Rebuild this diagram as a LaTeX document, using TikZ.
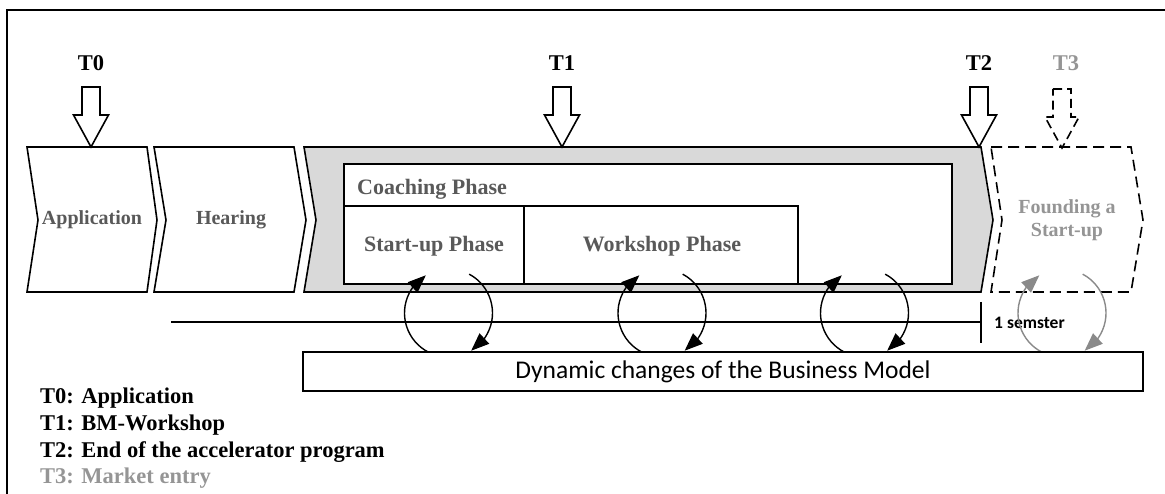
\documentclass[tikz,border=0pt]{standalone}
\usepackage{fontspec}
\setmainfont{Liberation Serif}
\newfontfamily\bmfont{Carlito}
\usepackage{xcolor}
\usetikzlibrary{arrows.meta,bending,calc}

\definecolor{phasegrey}{HTML}{595959}
\definecolor{futuregrey}{HTML}{959595}
\definecolor{coachfill}{HTML}{D9D9D9}
\definecolor{cycgrey}{HTML}{8A8A8A}

\begin{document}
\begin{tikzpicture}[x=1pt, y=-1pt,
  frame/.style={draw=black, line width=1.6pt},
  chev/.style={draw=black, line width=1.6pt, fill=white, line join=miter},
  futchev/.style={draw=black, line width=1.6pt, dash pattern=on 11pt off 6pt},
  blk/.style={draw=black, line width=1.6pt, fill=white},
  phasebox/.style={draw=black, line width=1.6pt, fill=white},
  tline/.style={draw=black, line width=1.6pt},
  cyc/.style={line width=1.4pt},
  cychead/.style={-{Triangle[length=18pt,width=14pt]}},
  tlab/.style={font=\fontsize{22.5}{24}\selectfont\bfseries, inner sep=0pt},
  chevtxt/.style={font=\fontsize{20}{23}\selectfont\bfseries, text=phasegrey, inner sep=0pt},
  phasetxt/.style={font=\fontsize{22}{24}\selectfont\bfseries, text=phasegrey, inner sep=0pt},
  legtxt/.style={font=\fontsize{22.5}{24}\selectfont\bfseries, anchor=west, inner sep=0pt}
]
\useasboundingbox (0,0) rectangle (1165,494);

% outer frame (cut at the page edge)
\draw[frame] (7,494) -- (7,10) -- (1165,10);

% process chevrons
\draw[chev] (27,147) -- (147,147) -- (157,220) -- (147,292) -- (27,292) -- (38,220) -- cycle;
\draw[chev] (154,147) -- (294,147) -- (306,220) -- (294,292) -- (154,292) -- (166,220) -- cycle;
\draw[chev, fill=coachfill] (304,147) -- (981,147) -- (993,220) -- (981,292) -- (304,292) -- (316,220) -- cycle;
\draw[futchev] (991,147) -- (1131,147) -- (1143,220) -- (1131,292) -- (991,292) -- (1002,220) -- cycle;

\node[chevtxt] (app) at (92,220) {Application};
\node[chevtxt] (hear) at (231,220) {Hearing};
\node[chevtxt, text=futuregrey, align=center] (found) at (1067,220) {Founding a\\Start-up};

% coaching phase
\draw[phasebox] (344,164) rectangle (952,284);
\draw[phasebox] (344,206) rectangle (524,284);
\draw[phasebox] (524,206) rectangle (798,284);
\node[phasetxt, anchor=west] (coach) at (357,189) {Coaching Phase};
\node[phasetxt] (startup) at (434,246) {Start-up Phase};
\node[phasetxt] (workshop) at (662,246) {Workshop Phase};

% milestones
\foreach \x/\t in {91/T0, 562/T1, 979/T2} {
  \node[tlab] (lab\t) at (\x,63) {\t};
  \draw[blk] (\x-9,87) -- (\x+9,87) -- (\x+9,115) -- (\x+17.5,115) -- (\x,147)
    -- (\x-17.5,115) -- (\x-9,115) -- cycle;
}
\node[tlab, text=futuregrey] (labT3) at (1066,63) {T3};
\draw[blk, dash pattern=on 9pt off 5pt] (1053,89) -- (1071,89) -- (1071,117) -- (1079,117)
  -- (1062,148) -- (1045,117) -- (1053,117) -- cycle;

% time line
\coordinate (tlstart) at (171,322);
\coordinate (tlend) at (981,322);
\draw[tline] (tlstart) -- (tlend);
\draw[tline] (981,302) -- (981,343);
\node[font=\bmfont\fontsize{17.5}{19}\selectfont\bfseries, anchor=west, inner sep=0pt] (sem) at (994,323) {1 semster};

% feedback loops
\foreach \cx/\cl in {448.5/black, 662/black, 864.5/black, 1062/cycgrey} {
  \coordinate (cc) at (\cx,313);
  \draw[cyc, cychead, draw=\cl] ($(cc)+(117:44)$) arc[start angle=117, end angle=239, radius=44];
  \draw[cyc, cychead, draw=\cl] ($(cc)+(-62:44)$) arc[start angle=-62, end angle=59, radius=44];
}

% business model
\node[draw=black, line width=1.6pt, fill=white, minimum width=840pt, minimum height=39pt,
  inner sep=0pt, font=\bmfont\fontsize{25.5}{27}\selectfont] (bm) at (723,371.5)
  {Dynamic changes of the Business Model};

% legend
\node[legtxt] (leg0) at (40,398) {T0: Application};
\node[legtxt] (leg1) at (40,425) {T1: BM-Workshop};
\node[legtxt] (leg2) at (40,452) {T2: End of the accelerator program};
\node[legtxt, text=futuregrey] (leg3) at (40,478) {T3: Market entry};
\end{tikzpicture}
\end{document}
